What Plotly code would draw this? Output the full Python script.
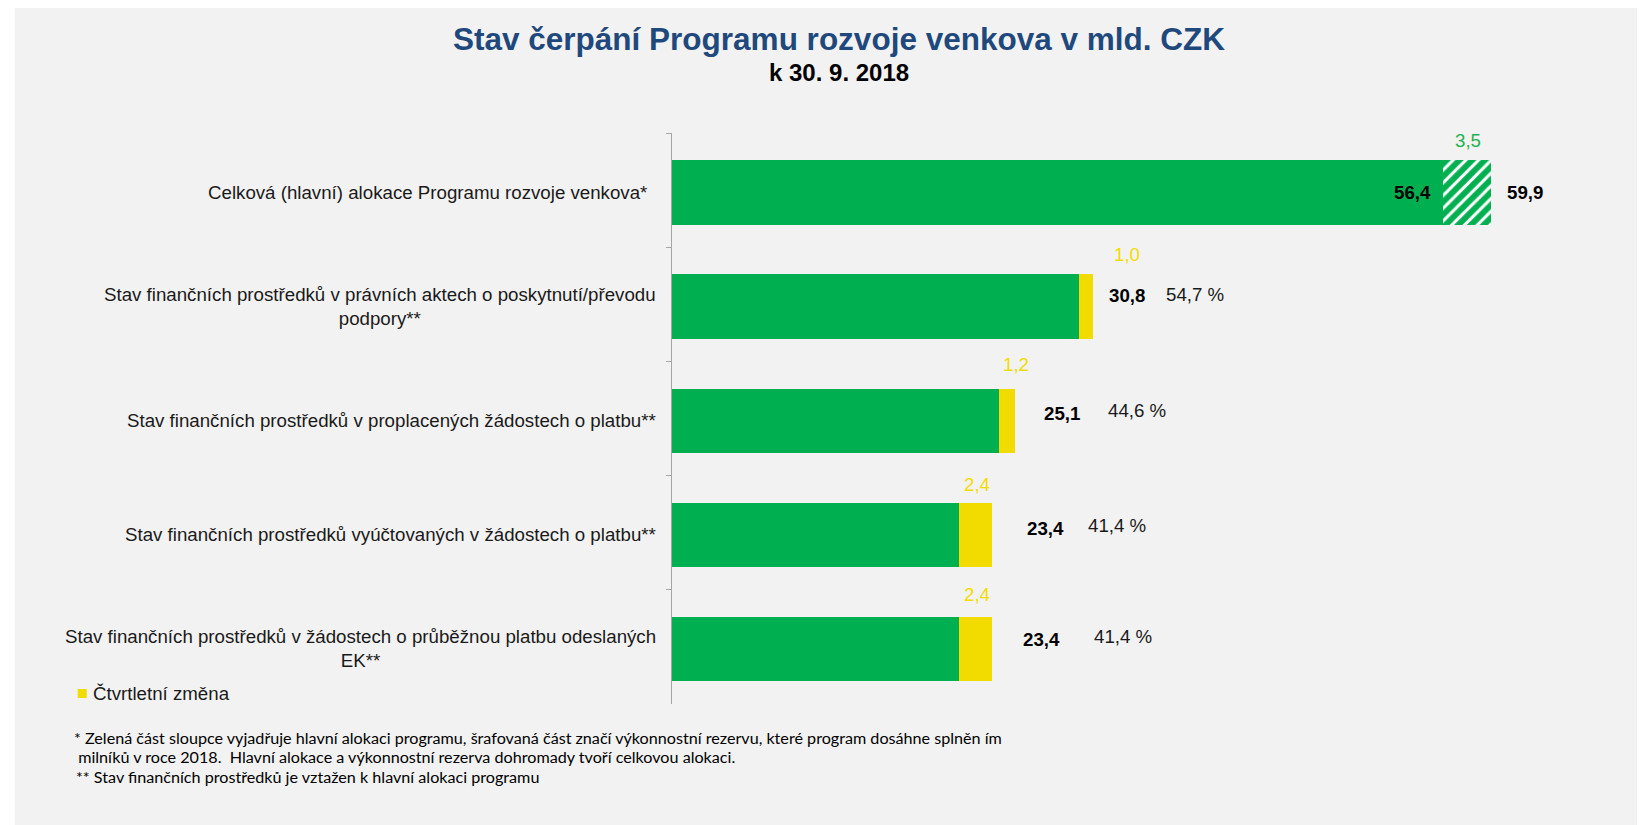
import plotly.graph_objects as go

# ---------------- data ----------------
categories = [
    "Celková (hlavní) alokace Programu rozvoje venkova*",
    "Stav finančních prostředků v právních aktech o poskytnutí/převodu<br>podpory**",
    "Stav finančních prostředků v proplacených žádostech o platbu**",
    "Stav finančních prostředků vyúčtovaných v žádostech o platbu**",
    "Stav finančních prostředků v žádostech o průběžnou platbu odeslaných<br>EK**",
]
main_values = [56.4, 29.8, 23.9, 21.0, 21.0]          # green part
quarter_change = [0.0, 1.0, 1.2, 2.4, 2.4]            # yellow part (quarterly change)
reserve = [3.5, 0.0, 0.0, 0.0, 0.0]                   # hatched performance reserve
total_labels = ["56,4", "30,8", "25,1", "23,4", "23,4"]
allocation_total_label = "59,9"
percent_labels = [None, "54,7 %", "44,6 %", "41,4 %", "41,4 %"]
change_labels = ["3,5", "1,0", "1,2", "2,4", "2,4"]
legend_name = "Čtvrtletní změna"
title = "Stav čerpání Programu rozvoje venkova v mld. CZK"
subtitle = "k 30. 9. 2018"
footnotes = [
    "* Zelená část sloupce vyjadřuje hlavní alokaci programu, šrafovaná část značí výkonnostní rezervu, které program dosáhne splněn ím",
    " milníků v roce 2018.  Hlavní alokace a výkonnostní rezerva dohromady tvoří celkovou alokaci.",
    "** Stav finančních prostředků je vztažen k hlavní alokaci programu",
]

# ---------------- style ----------------
OFF = 8                      # page body margin
W, H = 1645 - OFF, 825 - OFF
AX_L, AX_T, AX_B = 672, 133, 704     # page pixels of plot area
L, T = AX_L - OFF, AX_T - OFF
B = H - (AX_B - OFF)
UNIT = 13.66                  # px per bn CZK
XMAX = 66
PW = XMAX * UNIT
R = W - L - PW
PH = H - T - B
GREEN = "#00B050"
YELLOW = "#F2DC00"
FONT = "Liberation Sans, Arial, sans-serif"
NOTE_FONT = "Lato, Liberation Sans, sans-serif"
FS = 18.7
BAR_W = 0.565
BAR_OFF = -BAR_W / 2 + 0.02


def px(x):   # page pixel -> paper x
    return (x - OFF - L) / PW


def py(y):   # page pixel -> paper y
    return (H - B - (y - OFF)) / PH


fig = go.Figure()
fig.add_trace(go.Bar(y=categories, x=main_values, orientation="h",
                     width=BAR_W, offset=BAR_OFF,
                     marker=dict(color=GREEN, line=dict(width=0)),
                     showlegend=False, hoverinfo="x"))
fig.add_trace(go.Bar(y=categories, x=quarter_change, orientation="h", name=legend_name,
                     width=BAR_W, offset=BAR_OFF,
                     marker=dict(color=YELLOW, line=dict(width=0)),
                     showlegend=False, hoverinfo="x"))
fig.add_trace(go.Bar(y=categories, x=reserve, orientation="h",
                     width=BAR_W, offset=BAR_OFF,
                     marker=dict(color="white", line=dict(width=0),
                                 pattern=dict(shape="/", fgcolor=GREEN, bgcolor="white",
                                              fgopacity=1, size=9, solidity=0.66)),
                     showlegend=False, hoverinfo="x"))

ann = []
# title
ann.append(dict(text="<b>%s</b>" % title, xref="paper", yref="paper", x=px(839), y=py(39),
                xanchor="center", yanchor="middle",
                showarrow=False, font=dict(family=FONT, size=31.5, color="#1F497D")))
ann.append(dict(text="<b>%s</b>" % subtitle, xref="paper", yref="paper", x=px(839), y=py(73),
                xanchor="center", yanchor="middle",
                showarrow=False, font=dict(family=FONT, size=24, color="black")))

# category labels
cat_shift = [-23, -14, -14, -14, -14]
for c, s in zip(categories, cat_shift):
    ann.append(dict(text=c, xref="paper", yref="y", x=0, y=c, xanchor="right", yanchor="middle",
                    xshift=s, yshift=-2, align="center", showarrow=False,
                    font=dict(family=FONT, size=FS, color="#1a1a1a")))

bold_dx = [-10, 14, 27, 33, 29]
bold_dy = [-2, 9, 5, 4, 7]
pct_dx = [0, 71, 91, 94, 100]
pct_dy = [0, 10, 8, 7, 10]
chg_dx = [1, 41, 9, 2, 2]
chg_dy = [50, 50, 54, 48, 52]
for i, c in enumerate(categories):
    tot = main_values[i] + quarter_change[i]
    if i == 0:
        ann.append(dict(text="<b>%s</b>" % total_labels[i], x=main_values[i], y=c, xref="x", yref="y",
                        xanchor="right", yanchor="middle", xshift=bold_dx[i], yshift=bold_dy[i],
                        showarrow=False, font=dict(family=FONT, size=FS, color="black")))
        ann.append(dict(text="<b>%s</b>" % allocation_total_label, x=main_values[i] + reserve[i], y=c,
                        xref="x", yref="y", xanchor="left", yanchor="middle", xshift=14,
                        yshift=bold_dy[i], showarrow=False,
                        font=dict(family=FONT, size=FS, color="black")))
        ann.append(dict(text=change_labels[i], x=main_values[i] + reserve[i] / 2, y=c, xref="x", yref="y",
                        xanchor="center", yanchor="middle", xshift=chg_dx[i], yshift=chg_dy[i],
                        showarrow=False, font=dict(family=FONT, size=FS, color="#1FB24F")))
    else:
        ann.append(dict(text="<b>%s</b>" % total_labels[i], x=tot, y=c, xref="x", yref="y",
                        xanchor="left", yanchor="middle", xshift=bold_dx[i], yshift=bold_dy[i],
                        showarrow=False, font=dict(family=FONT, size=FS, color="black")))
        ann.append(dict(text=percent_labels[i], x=tot, y=c, xref="x", yref="y",
                        xanchor="left", yanchor="middle", xshift=pct_dx[i], yshift=pct_dy[i],
                        showarrow=False, font=dict(family=FONT, size=FS, color="#1a1a1a")))
        ann.append(dict(text=change_labels[i], x=tot - quarter_change[i] / 2, y=c, xref="x", yref="y",
                        xanchor="center", yanchor="middle", xshift=chg_dx[i], yshift=chg_dy[i],
                        showarrow=False, font=dict(family=FONT, size=FS, color="#F2DC00")))

# legend (manual)
ann.append(dict(text=legend_name, xref="paper", yref="paper", x=px(91), y=py(693),
                xanchor="left", yanchor="middle",
                showarrow=False, font=dict(family=FONT, size=FS, color="#1a1a1a")))

# footnotes
for txt, xx, yy in zip(footnotes, [72, 72, 74], [737, 756, 776]):
    ann.append(dict(text=txt, xref="paper", yref="paper", x=px(xx), y=py(yy),
                    xanchor="left", yanchor="middle",
                    showarrow=False, font=dict(family=NOTE_FONT, size=16.15, color="black")))

shapes = [
    dict(type="rect", xref="paper", yref="paper", x0=px(15), x1=px(1643), y0=py(8), y1=py(830),
         fillcolor="#F2F2F2", line=dict(width=0), layer="below"),
    dict(type="rect", xref="paper", yref="paper", x0=px(78), x1=px(87), y0=py(698), y1=py(689),
         fillcolor=YELLOW, line=dict(width=0)),
]

fig.update_layout(
    width=W, height=H,
    margin=dict(l=L, r=R, t=T, b=B, pad=0),
    paper_bgcolor="white", plot_bgcolor="rgba(0,0,0,0)",
    barmode="stack",
    showlegend=False,
    annotations=ann, shapes=shapes,
    xaxis=dict(range=[0, XMAX], visible=False, fixedrange=True),
    yaxis=dict(range=[len(categories) - 0.5, -0.5], autorange=False,
               showticklabels=False, ticks="outside", ticklen=5,
               tickcolor="#A6A6A6", tickson="boundaries", showline=True, linecolor="#A6A6A6",
               linewidth=1, showgrid=False, zeroline=False, fixedrange=True),
)

fig.write_html("out.html")
